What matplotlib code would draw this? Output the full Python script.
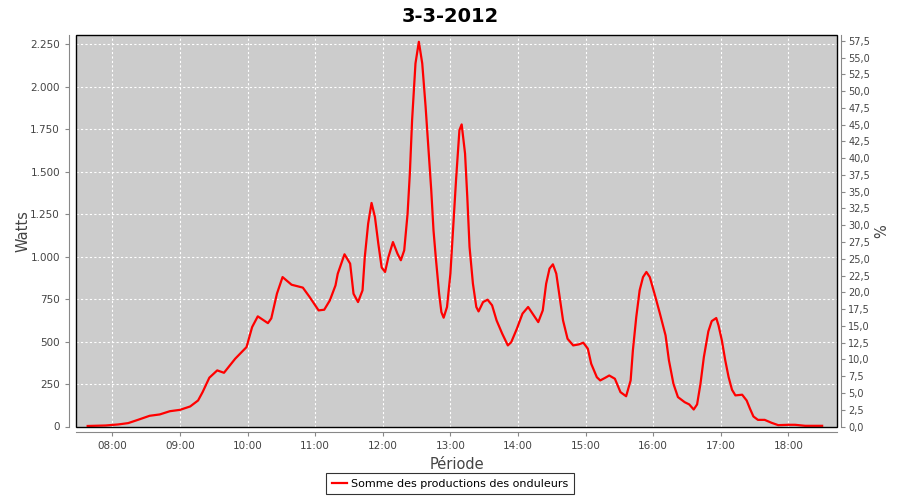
import matplotlib
matplotlib.use("Agg")
import matplotlib.pyplot as plt
from matplotlib.patches import Rectangle
from matplotlib.ticker import FuncFormatter, MultipleLocator

# Production readings (time of day, watts)
times = ["07:38", "07:54", "08:05", "08:14", "08:23", "08:33", "08:42", "08:51",
         "09:00", "09:09", "09:16", "09:20", "09:26", "09:33", "09:39", "09:49",
         "09:59", "10:04", "10:09", "10:18", "10:21", "10:26", "10:31", "10:39",
         "10:49", "10:55", "11:03", "11:08", "11:13", "11:18", "11:20", "11:26",
         "11:31", "11:34", "11:38", "11:42", "11:44", "11:47", "11:50", "11:53",
         "11:56", "11:59", "12:02", "12:05", "12:09", "12:13", "12:16", "12:19",
         "12:22", "12:24", "12:26", "12:29", "12:32", "12:35", "12:38", "12:40",
         "12:43", "12:45", "12:47", "12:50", "12:52", "12:54", "12:57", "13:00",
         "13:02", "13:05", "13:08", "13:10", "13:13", "13:15", "13:17", "13:20",
         "13:23", "13:25", "13:29", "13:33", "13:37", "13:41", "13:46", "13:51",
         "13:54", "13:59", "14:04", "14:09", "14:14", "14:18", "14:22", "14:25",
         "14:28", "14:31", "14:34", "14:37", "14:40", "14:44", "14:49", "14:54",
         "14:58", "15:02", "15:05", "15:10", "15:13", "15:17", "15:21", "15:26",
         "15:31", "15:36", "15:40", "15:42", "15:45", "15:48", "15:51", "15:54",
         "15:57", "16:02", "16:06", "16:11", "16:14", "16:18", "16:22", "16:28",
         "16:32", "16:36", "16:39", "16:42", "16:45", "16:49", "16:52", "16:56",
         "16:58", "17:01", "17:04", "17:07", "17:10", "17:13", "17:19", "17:23",
         "17:26", "17:29", "17:33", "17:39", "17:45", "17:51", "18:00", "18:06",
         "18:15", "18:30"]
watts = [3, 6, 12, 20, 40, 63, 71, 90,
         98, 118, 153, 202, 287, 330, 316, 399,
         467, 585, 648, 608, 636, 781, 879, 834,
         817, 762, 683, 687, 742, 830, 899, 1013,
         958, 781, 732, 801, 997, 1194, 1315, 1233,
         1076, 935, 909, 997, 1085, 1017, 978, 1036,
         1253, 1488, 1802, 2136, 2263, 2136, 1880, 1684,
         1390, 1154, 997, 781, 673, 640, 703, 899,
         1115, 1449, 1743, 1777, 1606, 1350, 1056, 840,
         703, 677, 732, 746, 713, 624, 546, 477,
         496, 575, 664, 703, 654, 614, 683, 840,
         929, 954, 899, 762, 624, 516, 477, 483,
         493, 458, 369, 290, 271, 285, 300, 281,
         202, 178, 271, 448, 644, 801, 879, 909,
         879, 762, 664, 536, 389, 251, 173, 143,
         130, 100, 130, 251, 408, 560, 620, 638,
         595, 506, 389, 290, 216, 183, 187, 153,
         104, 59, 39, 39, 22, 8, 10, 10,
         4, 4]

hours = [int(t[:2]) + int(t[3:]) / 60 for t in times]

grey_txt = '#444444'
axis_grey = '#888888'

fig = plt.figure(figsize=(9, 5), dpi=100)
ax = fig.add_axes([0.0844, 0.147, 0.8456, 0.783])
ax.set_facecolor('#cccccc')

ax.plot(hours, watts, color='red', linewidth=1.6, zorder=3,
        solid_joinstyle='round', label='Somme des productions des onduleurs')

ax.set_xlim(7.46, 18.72)
ax.set_ylim(0, 2303)
ax.xaxis.set_major_locator(MultipleLocator(1))
ax.yaxis.set_major_locator(MultipleLocator(250))
ax.xaxis.set_major_formatter(FuncFormatter(lambda v, p: f"{int(round(v)):02d}:00"))
ax.yaxis.set_major_formatter(FuncFormatter(lambda v, p: f"{v:,.0f}".replace(",", ".")))

ax.grid(True, color='white', linestyle=(0, (2, 2)), linewidth=0.8, zorder=1)
ax.set_axisbelow(True)

# offset grey axis lines, black plot border
for s in ['top', 'right']:
    ax.spines[s].set_visible(False)
ax.spines['left'].set_position(('outward', 5))
ax.spines['bottom'].set_position(('outward', 4))
for s in ['left', 'bottom']:
    ax.spines[s].set_color(axis_grey)
ax.add_patch(Rectangle((0, 0), 1, 1, transform=ax.transAxes, fill=False,
                       edgecolor='black', linewidth=1.0, clip_on=False, zorder=5))

ax.tick_params(axis='both', colors=axis_grey, labelcolor=grey_txt,
               labelsize=7.5, length=3, width=0.8)

ax.set_xlabel('Période', fontsize=10.5, color=grey_txt, labelpad=4)
ax.set_ylabel('Watts', fontsize=10.5, color=grey_txt, labelpad=0)

# right axis in percent
ax2 = ax.twinx()
ax2.set_ylim(0, 2303 / 39.46)
ax2.yaxis.set_major_locator(MultipleLocator(2.5))
ax2.yaxis.set_major_formatter(FuncFormatter(lambda v, p: f"{v:.1f}".replace(".", ",")))
for s in ['top', 'left', 'bottom']:
    ax2.spines[s].set_visible(False)
ax2.spines['right'].set_position(('outward', 3))
ax2.spines['right'].set_color(axis_grey)
ax2.tick_params(axis='y', colors=axis_grey, labelcolor=grey_txt,
                labelsize=7, length=3, width=0.8, pad=2)
ax2.set_ylabel('%', fontsize=10.5, color=grey_txt, labelpad=3)

fig.suptitle('3-3-2012', fontsize=14, fontweight='bold', y=0.985)

leg = fig.legend(loc='lower center', bbox_to_anchor=(0.5, 0.0), fontsize=8,
                 frameon=True, fancybox=False, handlelength=1.4,
                 borderpad=0.5, handletextpad=0.3)
leg.get_frame().set_edgecolor('black')
leg.get_frame().set_linewidth(0.8)

fig.savefig('out.png', dpi=100)
